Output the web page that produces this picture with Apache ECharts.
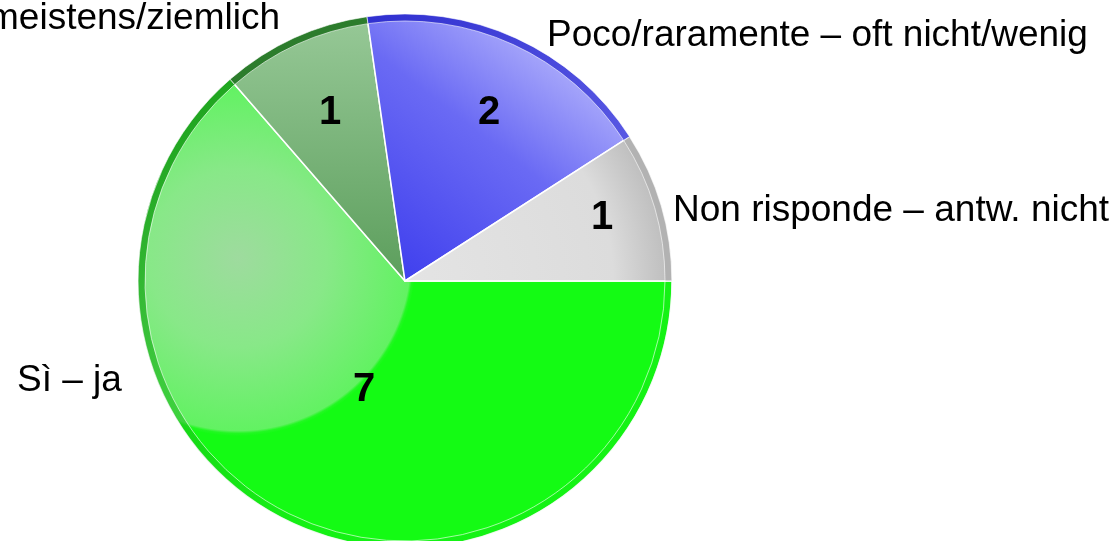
<!DOCTYPE html>
<html>
<head>
<meta charset="utf-8">
<script src="https://cdn.jsdelivr.net/npm/echarts@6/dist/echarts.min.js"></script>
<style>
html,body{margin:0;padding:0;background:#fff;}
#chart{width:1113px;height:541px;}
</style>
</head>
<body>
<div id="chart"></div>
<script>
// ---- data ----
var categories = ["Sì – ja", "meistens/ziemlich", "Poco/raramente – oft nicht/wenig", "Non risponde – antw. nicht"];
var values = [7, 1, 2, 1];

// ---- layout / style (not data) ----
var CX = 405, CY = 281, R = 267;
var valueLabelPos = [[364, 390], [330, 113], [489, 113], [602, 218]];
var nameLabelPos = [
  {x: 17, y: 381, align: 'left'},
  {x: 280, y: 19, align: 'right'},
  {x: 547, y: 36, align: 'left'},
  {x: 673, y: 211, align: 'left'}
];

var fills = [
  {type: 'radial', x: 238, y: 258, r: 178, global: true, colorStops: [
    {offset: 0, color: '#9edb9e'}, {offset: 0.5, color: '#88e888'},
    {offset: 0.97, color: '#62f262'}, {offset: 0.985, color: '#22f822'}, {offset: 1, color: '#14fb14'}]},
  {type: 'linear', x: 0, y: 20, x2: 0, y2: 281, global: true, colorStops: [
    {offset: 0, color: '#96c896'}, {offset: 1, color: '#5c9e5c'}]},
  {type: 'linear', x: 420, y: 281, x2: 590, y2: 60, global: true, colorStops: [
    {offset: 0, color: '#4242ee'}, {offset: 0.55, color: '#6a6af4'}, {offset: 1, color: '#b4b4fc'}]},
  {type: 'radial', x: CX, y: CY, r: R, global: true, colorStops: [
    {offset: 0, color: '#e4e4e4'}, {offset: 0.78, color: '#dcdcdc'},
    {offset: 0.9, color: '#cacaca'}, {offset: 1, color: '#bcbcbc'}]}
];
var rims = [
  {type: 'linear', x: 150, y: 120, x2: 560, y2: 520, global: true, colorStops: [
    {offset: 0, color: '#1c9e1c'}, {offset: 0.4, color: 'rgba(24,180,24,0.5)'}, {offset: 0.7, color: 'rgba(24,200,24,0.2)'}, {offset: 1, color: 'rgba(24,200,24,0.15)'}]},
  '#2c7c2c',
  {type: 'linear', x: 380, y: 0, x2: 640, y2: 150, global: true, colorStops: [
    {offset: 0, color: '#3030d0'}, {offset: 1, color: '#5a5ae4'}]},
  'rgba(170,170,170,0.6)'
];

var baseData = categories.map(function (c, i) {
  return {name: c, value: values[i], itemStyle: {color: fills[i]}};
});
var rimData = categories.map(function (c, i) {
  return {name: c, value: values[i], itemStyle: {color: rims[i]}};
});

var font = "'Liberation Sans', Arial, Helvetica, sans-serif";
var chart = echarts.init(document.getElementById('chart'), null, {renderer: 'canvas'});
chart.setOption({
  animation: false,
  backgroundColor: '#ffffff',
  series: [
    {
      type: 'pie',
      center: [CX, CY],
      radius: R,
      startAngle: 0,
      clockwise: true,
      avoidLabelOverlap: false,
      silent: true,
      itemStyle: {borderColor: '#ffffff', borderWidth: 1.5},
      label: {
        show: true, position: 'inside', formatter: '{c}',
        color: '#000', fontSize: 40, fontWeight: 'bold', fontFamily: font
      },
      labelLayout: function (p) {
        var q = valueLabelPos[p.dataIndex];
        return {x: q[0], y: q[1], align: 'center', verticalAlign: 'middle'};
      },
      data: baseData
    },
    {
      type: 'pie',
      center: [CX, CY],
      radius: [R - 7, R],
      startAngle: 0,
      clockwise: true,
      avoidLabelOverlap: false,
      silent: true,
      itemStyle: {borderColor: 'rgba(255,255,255,0.6)', borderWidth: 1},
      label: {
        show: true, position: 'outside', formatter: '{b}',
        color: '#000', fontSize: 37, fontFamily: font
      },
      labelLine: {show: false},
      labelLayout: function (p) {
        var q = nameLabelPos[p.dataIndex];
        return {x: q.x, y: q.y, align: q.align, verticalAlign: 'middle'};
      },
      data: rimData
    }
  ]
});
</script>
</body>
</html>
